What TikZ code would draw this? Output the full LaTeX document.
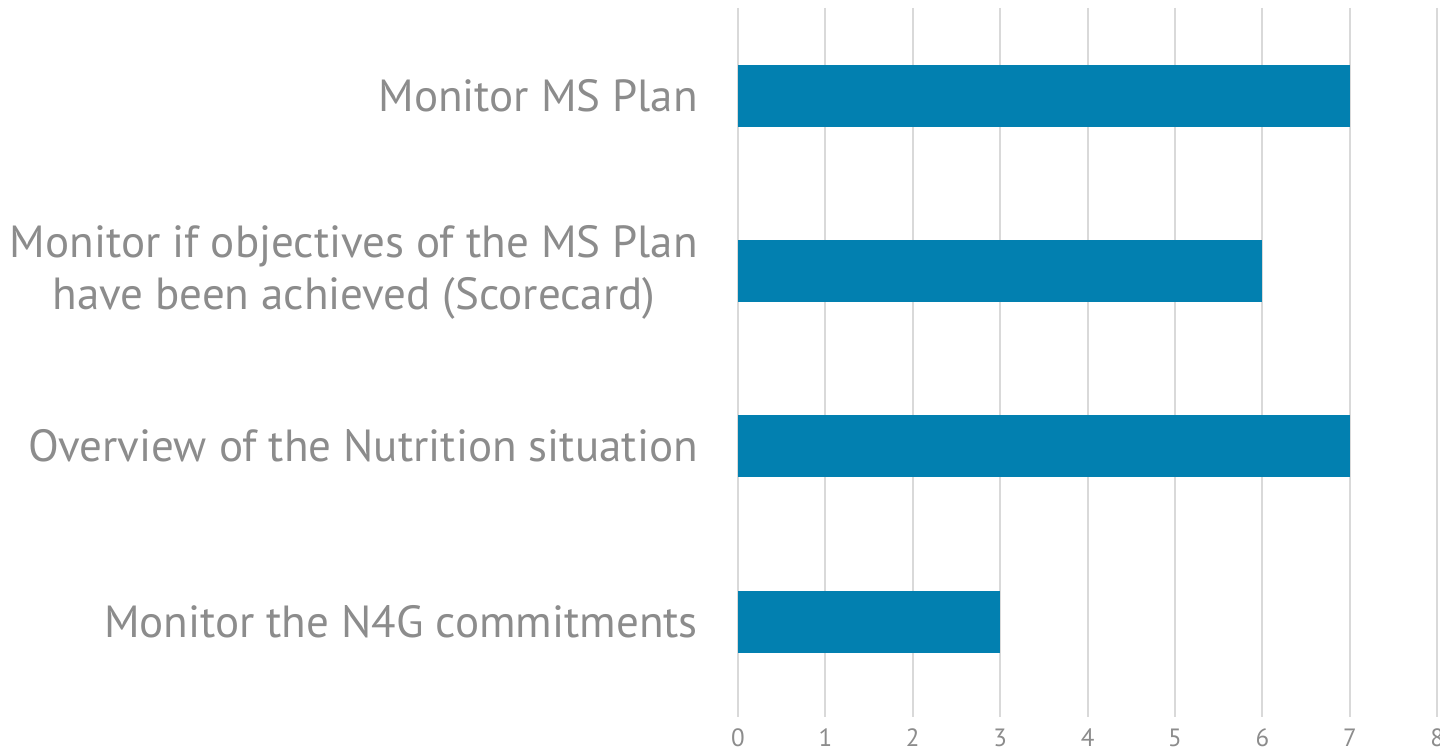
\documentclass[tikz,border=0pt]{standalone}
\usepackage{fontspec}
\setmainfont{PT Sans}
\definecolor{barblue}{HTML}{0280B0}
\definecolor{gridgray}{HTML}{D9D9D9}
\definecolor{labgray}{HTML}{8C8C8C}
\begin{document}
\begin{tikzpicture}[x=1pt,y=-1pt,
  bar/.style={fill=barblue,draw=none},
  gridln/.style={draw=gridgray,line width=2pt},
  catlab/.style={text=labgray,anchor=east,font=\fontsize{45}{52}\selectfont,inner sep=0pt,align=right},
  ticklab/.style={text=labgray,font=\fontsize{25}{28}\selectfont,inner sep=0pt}]
\useasboundingbox[fill=white] (0,0) rectangle (1440,751);
\foreach \i in {0,...,8}{
  \coordinate (gt\i) at ({738+87.4*\i},8);
  \coordinate (gb\i) at ({738+87.4*\i},717);
  \draw[gridln] (gt\i) -- (gb\i);
  \node[ticklab] (tl\i) at ({738+87.4*\i},738) {\i};
}
\path[bar] (738,65) rectangle ({738+87.4*7},127);
\path[bar] (738,240) rectangle ({738+87.4*6},302);
\path[bar] (738,415) rectangle ({738+87.4*7},477);
\path[bar] (738,591) rectangle ({738+87.4*3},653);
\node[catlab] (c1) at (698,96) {Monitor MS Plan};
\node[catlab,align=center] (c2) at (698,272) {Monitor if objectives of the MS Plan\\have been achieved (Scorecard)};
\node[catlab] (c3) at (698,446) {Overview of the Nutrition situation};
\node[catlab] (c4) at (698,622) {Monitor the N4G commitments};
\end{tikzpicture}
\end{document}
